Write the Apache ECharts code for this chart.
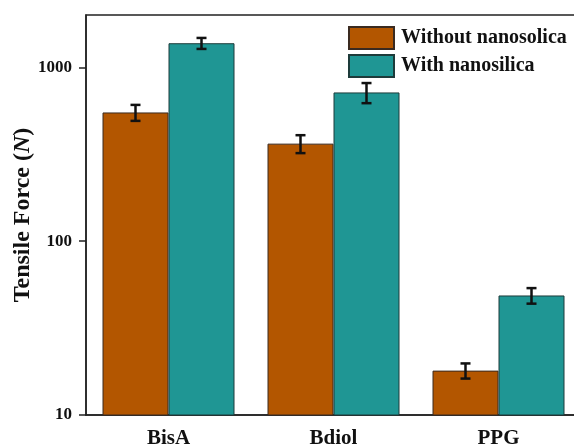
<!DOCTYPE html>
<html><head><meta charset="utf-8">
<script src="https://cdn.jsdelivr.net/npm/echarts@6/dist/echarts.min.js"></script>
<style>html,body{margin:0;padding:0;background:#fff}#c{width:574px;height:447px}</style>
</head><body><div id="c"></div>
<script>
var categories = ['BisA', 'Bdiol', 'PPG'];
var withoutVals = [550, 364, 18];
var withoutErr = [58, 43, 1.8];
var withVals = [1376, 717, 48.7];
var withErr = [100, 95, 5];
var yTicks = [10, 100, 1000];

var FONT = '"Liberation Serif", "Times New Roman", serif';
var C1 = '#B35600', C2 = '#1F9694';

function errSeries(vals, errs, side) {
  return {
    type: 'custom',
    xAxisIndex: 0,
    z: 10,
    data: vals.map(function (v, i) { return [i, v - errs[i], v + errs[i]]; }),
    renderItem: function (params, api) {
      var band = api.size([1, 0])[0];
      var lo = api.coord([api.value(0), api.value(1)]);
      var hi = api.coord([api.value(0), api.value(2)]);
      var x = lo[0] + side * band * 0.2;
      var cap = 5;
      var st = { stroke: '#111', lineWidth: 2.5 };
      return { type: 'group', children: [
        { type: 'line', shape: { x1: x, y1: lo[1], x2: x, y2: hi[1] }, style: st },
        { type: 'line', shape: { x1: x - cap, y1: lo[1], x2: x + cap, y2: lo[1] }, style: st },
        { type: 'line', shape: { x1: x - cap, y1: hi[1], x2: x + cap, y2: hi[1] }, style: st }
      ]};
    }
  };
}

var chart = echarts.init(document.getElementById('c'));
chart.setOption({
  animation: false,
  grid: { left: 86, top: 15, width: 495, height: 400, containLabel: false, outerBoundsMode: 'none',
    show: true, borderColor: '#222', borderWidth: 1.5, backgroundColor: 'transparent' },
  legend: {
    left: 343, top: 21, orient: 'vertical', itemWidth: 45, itemHeight: 22, itemGap: 4,
    icon: 'rect',
    textStyle: { fontFamily: FONT, fontWeight: 'bold', fontSize: 20, color: '#111', padding: [0, 0, 0, 2] },
    data: ['Without nanosolica', 'With nanosilica']
  },
  xAxis: [{
    type: 'category', data: categories,
    axisLine: { lineStyle: { color: '#222', width: 1.5 } },
    axisTick: { alignWithLabel: true, length: 7, lineStyle: { color: '#222', width: 1.5 } },
    axisLabel: { fontFamily: FONT, fontWeight: 'bold', fontSize: 21, color: '#111', margin: 13 }
  }, {
    type: 'category', data: categories, position: 'bottom',
    axisLine: { show: false },
    axisTick: { length: 3, lineStyle: { color: '#222', width: 1.5 } },
    axisLabel: { show: false }
  }],
  yAxis: {
    type: 'log', logBase: 10, min: 10, max: 2000,
    name: '{b|Tensile Force (}{i|N}{b|)}',
    nameLocation: 'middle', nameGap: 51, nameRotate: 90, nameMoveOverlap: false,
    nameTextStyle: { rich: {
      b: { fontFamily: FONT, fontWeight: 'bold', fontSize: 24, color: '#111' },
      i: { fontFamily: FONT, fontWeight: 'bold', fontStyle: 'italic', fontSize: 24, color: '#111' }
    } },
    splitLine: { show: false },
    axisLine: { show: true, lineStyle: { color: '#222', width: 1.5 } },
    axisTick: { show: true, length: 7, customValues: yTicks, lineStyle: { color: '#222', width: 1.5 } },
    axisLabel: {
      fontFamily: FONT, fontWeight: 'bold', fontSize: 17, color: '#111', margin: 14,
      customValues: yTicks,
      formatter: function (v) { return String(Math.round(v)); }
    }
  },
  series: [
    { name: 'Without nanosolica', type: 'bar', data: withoutVals, barGap: '0%', barCategoryGap: '20%',
      itemStyle: { color: C1, borderColor: '#3a2a20', borderWidth: 1 } },
    { name: 'With nanosilica', type: 'bar', data: withVals, barGap: '0%', barCategoryGap: '20%',
      itemStyle: { color: C2, borderColor: '#1d3b3a', borderWidth: 1 } },
    errSeries(withoutVals, withoutErr, -1),
    errSeries(withVals, withErr, 1)
  ]
});
</script></body></html>
